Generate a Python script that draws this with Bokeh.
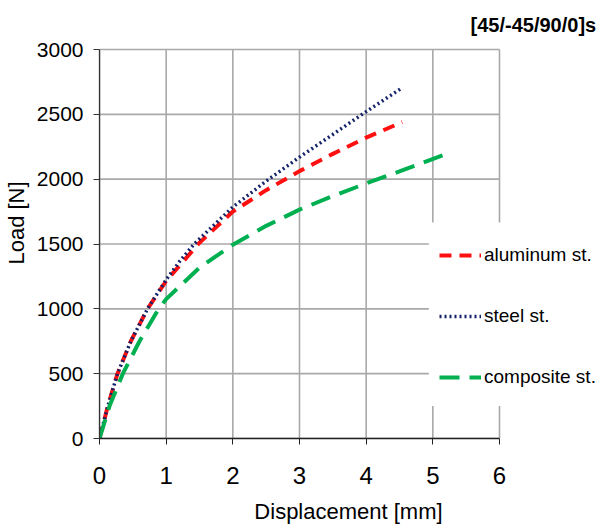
from bokeh.plotting import figure
from bokeh.models import Legend, LegendItem, Label, Range1d, FixedTicker, BoxAnnotation
from bokeh.embed import file_html
from bokeh.resources import INLINE

# Data
x_aluminum = [0, 0.125, 0.27, 0.47, 0.72, 1.0, 1.5, 2.0, 2.5, 3.0, 3.5, 4.0, 4.54]
y_aluminum = [0, 250, 500, 750, 1000, 1215, 1510, 1750, 1915, 2062, 2195, 2320, 2440]

x_steel = [0, 0.125, 0.27, 0.47, 0.72, 1.0, 1.2, 1.42, 2.0, 2.5, 3.0, 3.5, 3.94, 4.54]
y_steel = [0, 250, 500, 750, 1000, 1225, 1365, 1500, 1785, 1985, 2170, 2345, 2500, 2705]

x_composite = [0, 0.15, 0.35, 0.6, 0.87, 1.0, 1.5, 2.0, 2.5, 3.0, 3.5, 4.0, 4.5, 5.28]
y_composite = [0, 250, 500, 750, 985, 1075, 1318, 1495, 1640, 1765, 1870, 1967, 2060, 2210]

x_ticks = [0, 1, 2, 3, 4, 5, 6]
y_ticks = [0, 500, 1000, 1500, 2000, 2500, 3000]

series_labels = ["aluminum st.", "steel st.", "composite st."]
chart_title = "[45/-45/90/0]s"

FONT = "Liberation Sans"

# The frame is widened/raised past the axes so that the legend and the
# title (which sit outside the axes area in the reference) are not clipped.
FRAME_W, FRAME_H = 498, 431
AX_W, AX_H = 400, 389          # pixel size of the 0..6 / 0..3000 area
x_end = x_ticks[-1] * FRAME_W / AX_W
y_end = y_ticks[-1] * FRAME_H / AX_H

p = figure(
    output_backend="svg", toolbar_location=None,
    frame_width=FRAME_W, frame_height=FRAME_H,
    min_border_left=92, min_border_right=0,
    min_border_top=7, min_border_bottom=84,
    x_range=Range1d(0, x_end), y_range=Range1d(0, y_end),
    x_axis_label="Displacement [mm]", y_axis_label="Load [N]",
)
p.outline_line_color = None
p.background_fill_color = "white"
p.border_fill_color = "white"

# Built-in grids would span the whole (enlarged) frame: draw them from ticks
p.xgrid.grid_line_color = None
p.ygrid.grid_line_color = None
GRID = "#a9a9a9"
p.segment(x0=x_ticks, y0=[y_ticks[0]] * len(x_ticks),
          x1=x_ticks, y1=[y_ticks[-1]] * len(x_ticks),
          line_color=GRID, line_width=1.6, level="underlay")
p.segment(x0=[x_ticks[0]] * len(y_ticks), y0=y_ticks,
          x1=[x_ticks[-1]] * len(y_ticks), y1=y_ticks,
          line_color=GRID, line_width=1.6, level="underlay")

# white panel behind the legend (hides the grid there, as in the reference)
p.add_layout(BoxAnnotation(left=4.94, right=x_end, bottom=250, top=1665,
                           fill_color="white", fill_alpha=1.0,
                           line_color=None, level="underlay"))

p.xaxis.ticker = FixedTicker(ticks=x_ticks)
p.yaxis.ticker = FixedTicker(ticks=y_ticks)
p.xaxis.bounds = (x_ticks[0], x_ticks[-1])
p.yaxis.bounds = (y_ticks[0], y_ticks[-1])

for ax in (p.xaxis, p.yaxis):
    ax.minor_tick_line_color = None
    ax.major_tick_in = 0
    ax.major_tick_out = 6
    ax.major_label_text_font = FONT
    ax.major_label_text_color = "black"
    ax.axis_label_text_font = FONT
    ax.axis_label_text_font_style = "normal"
    ax.axis_label_text_color = "black"

p.xaxis.major_label_text_font_size = "24px"
p.xaxis.axis_label_text_font_size = "22px"
p.xaxis.axis_line_color = "#222222"
p.xaxis.major_tick_line_color = "#222222"
p.xaxis.axis_line_width = 1.5
p.xaxis.major_label_standoff = 22
p.xaxis.axis_label_standoff = 12

p.yaxis.major_label_text_font_size = "21px"
p.yaxis.axis_label_text_font_size = "22px"
p.yaxis.axis_line_color = "#333333"
p.yaxis.major_tick_line_color = "#333333"
p.yaxis.axis_line_width = 1.3
p.yaxis.major_label_standoff = 10
p.yaxis.axis_label_standoff = 5

r_al = p.line(x_aluminum, y_aluminum, line_color="#ff1010", line_width=4,
              line_dash="12 8")
r_st = p.line(x_steel, y_steel, line_color="#14226a", line_width=3.5,
              line_dash="2 3", line_cap="butt")
r_co = p.line(x_composite, y_composite, line_color="#00b050", line_width=4,
              line_dash="20 10")

legend = Legend(
    items=[LegendItem(label=series_labels[0], renderers=[r_al]),
           LegendItem(label=series_labels[1], renderers=[r_st]),
           LegendItem(label=series_labels[2], renderers=[r_co])],
    location=(340, 46),
    padding=12, spacing=31,
    glyph_width=42, glyph_height=30, label_height=30,
    label_standoff=3,
    label_text_font=FONT, label_text_font_size="19px",
    label_text_color="black",
    border_line_color=None,
    background_fill_color="white", background_fill_alpha=1.0,
)
p.add_layout(legend, "center")

title = Label(x=x_end - 0.02, y=3190, text=chart_title, text_align="right",
              text_baseline="middle", text_font=FONT, text_font_style="bold",
              text_font_size="20px", text_color="black")
p.add_layout(title)

open("out.html", "w").write(file_html(p, INLINE))
